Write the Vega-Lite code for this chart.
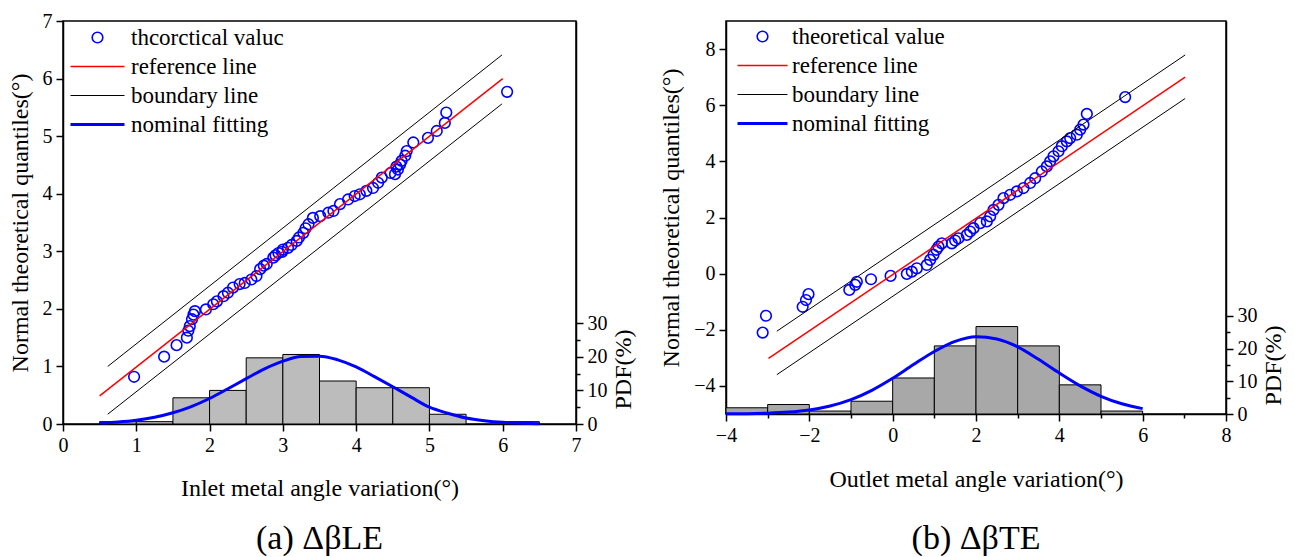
{
  "$schema": "https://vega.github.io/schema/vega-lite/v6.json",
  "background": "white",
  "padding": {"left": 7, "top": 10, "right": 5, "bottom": 5},
  "config": {
    "view": {"stroke": "black", "strokeWidth": 1.5},
    "axis": {"domainColor": "black", "domainWidth": 1.5, "tickColor": "black", "tickWidth": 1.5, "tickSize": 7, "labelColor": "black", "labelFont": "Liberation Serif", "labelFontSize": 20, "titleFont": "Liberation Serif", "titleFontSize": 24, "titleFontWeight": "normal", "titleColor": "black", "grid": false, "labelFlush": false, "labelOverlap": false, "labelPadding": 4},
    "legend": {"labelFont": "Liberation Serif", "labelFontSize": 23, "labelColor": "black"},
    "title": {"font": "Liberation Serif", "fontSize": 34, "fontWeight": "normal", "color": "black"}
  },
  "bounds": "flush",
  "spacing": 150,
  "resolve": {"scale": {"color": "independent", "shape": "independent", "size": "independent", "strokeWidth": "independent"}, "legend": {"color": "independent", "shape": "independent", "size": "independent", "strokeWidth": "independent"}},
  "hconcat": [
    {
      "width": 513,
      "height": 403,
      "title": {"text": "(a) ΔβLE", "orient": "bottom", "anchor": "middle", "offset": 22},
      "layer": [
        {
          "layer": [
            {
              "data": {"values": [
                {"lo": 0.5, "hi": 1.0, "pdf": 0.7},
                {"lo": 1.0, "hi": 1.5, "pdf": 0.7},
                {"lo": 1.5, "hi": 2.0, "pdf": 7.8},
                {"lo": 2.0, "hi": 2.5, "pdf": 10.0},
                {"lo": 2.5, "hi": 3.0, "pdf": 19.7},
                {"lo": 3.0, "hi": 3.5, "pdf": 20.7},
                {"lo": 3.5, "hi": 4.0, "pdf": 12.8},
                {"lo": 4.0, "hi": 4.5, "pdf": 10.8},
                {"lo": 4.5, "hi": 5.0, "pdf": 10.8},
                {"lo": 5.0, "hi": 5.5, "pdf": 2.9},
                {"lo": 6.0, "hi": 6.5, "pdf": 0.7}
              ]},
              "mark": {"type": "rect", "fill": "#bcbcbc", "stroke": "black", "strokeWidth": 1},
              "encoding": {
                "x": {"field": "lo", "type": "quantitative", "scale": {"domain": [0, 7], "nice": false},
                  "axis": {"title": "Inlet metal angle variation(°)", "values": [0, 0.5, 1, 1.5, 2, 2.5, 3, 3.5, 4, 4.5, 5, 5.5, 6, 6.5, 7], "format": "d", "labelExpr": "datum.value % 1 == 0 ? datum.label : ''", "tickSize": {"condition": {"test": "datum.value % 1 == 0", "value": 7}, "value": 4}, "titlePadding": 21}},
                "x2": {"field": "hi"},
                "y": {"field": "pdf", "type": "quantitative", "scale": {"domain": [0, 120], "nice": false},
                  "axis": {"orient": "right", "title": "PDF(%)", "values": [0, 5, 10, 15, 20, 25, 30], "format": "d", "labelExpr": "datum.value % 10 == 0 ? datum.label : ''", "tickSize": {"condition": {"test": "datum.value % 10 == 0", "value": 7}, "value": 4}, "titleAngle": 270, "titleBaseline": "top", "titleAlign": "center", "titleY": 348}},
                "y2": {"datum": 0}
              }
            },
            {
              "data": {"values": [
                {"x": 0.5, "pdf": 0.3, "series": "nominal fitting"},
                {"x": 0.75, "pdf": 0.61, "series": "nominal fitting"},
                {"x": 1.0, "pdf": 1.14, "series": "nominal fitting"},
                {"x": 1.25, "pdf": 2.01, "series": "nominal fitting"},
                {"x": 1.5, "pdf": 3.34, "series": "nominal fitting"},
                {"x": 1.75, "pdf": 5.2, "series": "nominal fitting"},
                {"x": 2.0, "pdf": 7.6, "series": "nominal fitting"},
                {"x": 2.25, "pdf": 10.5, "series": "nominal fitting"},
                {"x": 2.5, "pdf": 13.5, "series": "nominal fitting"},
                {"x": 2.75, "pdf": 16.4, "series": "nominal fitting"},
                {"x": 3.0, "pdf": 18.7, "series": "nominal fitting"},
                {"x": 3.25, "pdf": 20.1, "series": "nominal fitting"},
                {"x": 3.5, "pdf": 20.2, "series": "nominal fitting"},
                {"x": 3.75, "pdf": 19.1, "series": "nominal fitting"},
                {"x": 4.0, "pdf": 17.0, "series": "nominal fitting"},
                {"x": 4.25, "pdf": 14.1, "series": "nominal fitting"},
                {"x": 4.5, "pdf": 11.1, "series": "nominal fitting"},
                {"x": 4.75, "pdf": 8.0, "series": "nominal fitting"},
                {"x": 5.0, "pdf": 5.0, "series": "nominal fitting"},
                {"x": 5.25, "pdf": 3.2, "series": "nominal fitting"},
                {"x": 5.5, "pdf": 1.8, "series": "nominal fitting"},
                {"x": 5.75, "pdf": 1.0, "series": "nominal fitting"},
                {"x": 6.0, "pdf": 0.5, "series": "nominal fitting"},
                {"x": 6.25, "pdf": 0.25, "series": "nominal fitting"},
                {"x": 6.5, "pdf": 0.1, "series": "nominal fitting"}
              ]},
              "mark": {"type": "line", "interpolate": "monotone"},
              "encoding": {
                "x": {"field": "x", "type": "quantitative"},
                "y": {"field": "pdf", "type": "quantitative"},
                "color": {"field": "series", "type": "nominal", "scale": {"type": "ordinal", "domain": ["theoretical value", "reference line", "boundary line", "nominal fitting"], "range": ["#0000ff", "#ff0000", "#000000", "#0000ff"]}},
                "strokeWidth": {"field": "series", "type": "nominal", "scale": {"type": "ordinal", "domain": ["theoretical value", "reference line", "boundary line", "nominal fitting"], "range": [1.6, 1.5, 1, 3]}}
              }
            }
          ]
        },
        {
          "layer": [
            {
              "data": {"values": [
                {"x": 0.97, "y": 0.82, "series": "theoretical value"},
                {"x": 1.38, "y": 1.17, "series": "theoretical value"},
                {"x": 1.55, "y": 1.37, "series": "theoretical value"},
                {"x": 1.69, "y": 1.5, "series": "theoretical value"},
                {"x": 1.71, "y": 1.62, "series": "theoretical value"},
                {"x": 1.73, "y": 1.7, "series": "theoretical value"},
                {"x": 1.76, "y": 1.82, "series": "theoretical value"},
                {"x": 1.78, "y": 1.9, "series": "theoretical value"},
                {"x": 1.8, "y": 1.96, "series": "theoretical value"},
                {"x": 1.95, "y": 1.99, "series": "theoretical value"},
                {"x": 2.05, "y": 2.08, "series": "theoretical value"},
                {"x": 2.1, "y": 2.13, "series": "theoretical value"},
                {"x": 2.19, "y": 2.22, "series": "theoretical value"},
                {"x": 2.25, "y": 2.28, "series": "theoretical value"},
                {"x": 2.32, "y": 2.37, "series": "theoretical value"},
                {"x": 2.41, "y": 2.43, "series": "theoretical value"},
                {"x": 2.48, "y": 2.45, "series": "theoretical value"},
                {"x": 2.57, "y": 2.51, "series": "theoretical value"},
                {"x": 2.64, "y": 2.57, "series": "theoretical value"},
                {"x": 2.69, "y": 2.69, "series": "theoretical value"},
                {"x": 2.74, "y": 2.75, "series": "theoretical value"},
                {"x": 2.78, "y": 2.78, "series": "theoretical value"},
                {"x": 2.87, "y": 2.89, "series": "theoretical value"},
                {"x": 2.9, "y": 2.93, "series": "theoretical value"},
                {"x": 2.94, "y": 2.97, "series": "theoretical value"},
                {"x": 2.99, "y": 2.99, "series": "theoretical value"},
                {"x": 3.0, "y": 3.03, "series": "theoretical value"},
                {"x": 3.07, "y": 3.06, "series": "theoretical value"},
                {"x": 3.12, "y": 3.11, "series": "theoretical value"},
                {"x": 3.19, "y": 3.18, "series": "theoretical value"},
                {"x": 3.22, "y": 3.24, "series": "theoretical value"},
                {"x": 3.28, "y": 3.32, "series": "theoretical value"},
                {"x": 3.31, "y": 3.4, "series": "theoretical value"},
                {"x": 3.35, "y": 3.47, "series": "theoretical value"},
                {"x": 3.41, "y": 3.58, "series": "theoretical value"},
                {"x": 3.51, "y": 3.61, "series": "theoretical value"},
                {"x": 3.62, "y": 3.67, "series": "theoretical value"},
                {"x": 3.69, "y": 3.7, "series": "theoretical value"},
                {"x": 3.78, "y": 3.82, "series": "theoretical value"},
                {"x": 3.89, "y": 3.9, "series": "theoretical value"},
                {"x": 3.98, "y": 3.96, "series": "theoretical value"},
                {"x": 4.05, "y": 3.99, "series": "theoretical value"},
                {"x": 4.14, "y": 4.05, "series": "theoretical value"},
                {"x": 4.23, "y": 4.1, "series": "theoretical value"},
                {"x": 4.3, "y": 4.19, "series": "theoretical value"},
                {"x": 4.35, "y": 4.28, "series": "theoretical value"},
                {"x": 4.47, "y": 4.36, "series": "theoretical value"},
                {"x": 4.53, "y": 4.34, "series": "theoretical value"},
                {"x": 4.55, "y": 4.47, "series": "theoretical value"},
                {"x": 4.57, "y": 4.42, "series": "theoretical value"},
                {"x": 4.6, "y": 4.51, "series": "theoretical value"},
                {"x": 4.62, "y": 4.57, "series": "theoretical value"},
                {"x": 4.67, "y": 4.66, "series": "theoretical value"},
                {"x": 4.69, "y": 4.74, "series": "theoretical value"},
                {"x": 4.78, "y": 4.89, "series": "theoretical value"},
                {"x": 4.98, "y": 4.97, "series": "theoretical value"},
                {"x": 5.1, "y": 5.09, "series": "theoretical value"},
                {"x": 5.21, "y": 5.23, "series": "theoretical value"},
                {"x": 5.23, "y": 5.41, "series": "theoretical value"},
                {"x": 6.06, "y": 5.77, "series": "theoretical value"}
              ]},
              "mark": {"type": "point", "filled": false, "opacity": 1},
              "encoding": {
                "x": {"field": "x", "type": "quantitative"},
                "y": {"field": "y", "type": "quantitative", "scale": {"domain": [0, 7], "nice": false},
                  "axis": {"orient": "left", "title": "Normal theoretical quantiles(°)", "values": [0, 0.5, 1, 1.5, 2, 2.5, 3, 3.5, 4, 4.5, 5, 5.5, 6, 6.5, 7], "format": "d", "labelExpr": "datum.value % 1 == 0 ? datum.label : ''", "tickSize": {"condition": {"test": "datum.value % 1 == 0", "value": 7}, "value": 4}, "titlePadding": 10}},
                "color": {"field": "series", "type": "nominal", "scale": {"type": "ordinal", "domain": ["theoretical value", "reference line", "boundary line", "nominal fitting"], "range": ["#0000ff", "#ff0000", "#000000", "#0000ff"]},
                  "legend": {"orient": "none", "legendX": 6, "legendY": 3, "title": null, "clipHeight": 27, "rowPadding": 2, "padding": 0, "labelOffset": 5, "labelExpr": "datum.label == 'theoretical value' ? 'thcorctical valuc' : datum.label"}},
                "shape": {"field": "series", "type": "nominal", "scale": {"type": "ordinal", "domain": ["theoretical value", "reference line", "boundary line", "nominal fitting"], "range": ["circle", "stroke", "stroke", "stroke"]}},
                "size": {"field": "series", "type": "nominal", "scale": {"type": "ordinal", "domain": ["theoretical value", "reference line", "boundary line", "nominal fitting"], "range": [113, 2916, 2916, 2916]}},
                "strokeWidth": {"field": "series", "type": "nominal", "scale": {"type": "ordinal", "domain": ["theoretical value", "reference line", "boundary line", "nominal fitting"], "range": [1.6, 1.5, 1, 3]}}
              }
            },
            {
              "data": {"values": [
                {"x": 0.5, "y": 0.49, "series": "reference line", "part": "r"},
                {"x": 6.0, "y": 6.0, "series": "reference line", "part": "r"},
                {"x": 0.61, "y": 1.0, "series": "boundary line", "part": "u"},
                {"x": 5.99, "y": 6.41, "series": "boundary line", "part": "u"},
                {"x": 0.61, "y": 0.17, "series": "boundary line", "part": "l"},
                {"x": 5.99, "y": 5.56, "series": "boundary line", "part": "l"}
              ]},
              "mark": {"type": "line"},
              "encoding": {
                "x": {"field": "x", "type": "quantitative"},
                "y": {"field": "y", "type": "quantitative"},
                "detail": {"field": "part", "type": "nominal"},
                "color": {"field": "series", "type": "nominal", "scale": {"type": "ordinal", "domain": ["theoretical value", "reference line", "boundary line", "nominal fitting"], "range": ["#0000ff", "#ff0000", "#000000", "#0000ff"]}},
                "strokeWidth": {"field": "series", "type": "nominal", "scale": {"type": "ordinal", "domain": ["theoretical value", "reference line", "boundary line", "nominal fitting"], "range": [1.6, 1.5, 1, 3]}}
              }
            }
          ]
        }
      ],
      "resolve": {"scale": {"y": "independent"}}
    },
    {
      "width": 500,
      "height": 393,
      "title": {"text": "(b) ΔβTE", "orient": "bottom", "anchor": "middle", "offset": 31},
      "layer": [
        {
          "layer": [
            {
              "data": {"values": [
                {"lo": -4, "hi": -3, "pdf": 1.9},
                {"lo": -3, "hi": -2, "pdf": 2.9},
                {"lo": -2, "hi": -1, "pdf": 0.9},
                {"lo": -1, "hi": 0, "pdf": 3.9},
                {"lo": 0, "hi": 1, "pdf": 11.0},
                {"lo": 1, "hi": 2, "pdf": 20.8},
                {"lo": 2, "hi": 3, "pdf": 26.7},
                {"lo": 3, "hi": 4, "pdf": 20.8},
                {"lo": 4, "hi": 5, "pdf": 8.9},
                {"lo": 5, "hi": 6, "pdf": 0.9}
              ]},
              "mark": {"type": "rect", "fill": "#a8a8a8", "stroke": "black", "strokeWidth": 1},
              "encoding": {
                "x": {"field": "lo", "type": "quantitative", "scale": {"domain": [-4, 8], "nice": false},
                  "axis": {"title": "Outlet metal angle variation(°)", "values": [-4, -3, -2, -1, 0, 1, 2, 3, 4, 5, 6, 7, 8], "format": "d", "labelExpr": "datum.value % 2 == 0 ? datum.label : ''", "tickSize": {"condition": {"test": "datum.value % 2 == 0", "value": 7}, "value": 4}, "titlePadding": 22}},
                "x2": {"field": "hi"},
                "y": {"field": "pdf", "type": "quantitative", "scale": {"domain": [0, 120], "nice": false},
                  "axis": {"orient": "right", "title": "PDF(%)", "values": [0, 5, 10, 15, 20, 25, 30], "format": "d", "labelExpr": "datum.value % 10 == 0 ? datum.label : ''", "tickSize": {"condition": {"test": "datum.value % 10 == 0", "value": 7}, "value": 4}, "titleAngle": 270, "titleBaseline": "top", "titleAlign": "center", "titleY": 344}},
                "y2": {"datum": 0}
              }
            },
            {
              "data": {"values": [
                {"x": -4.0, "pdf": 0.04, "series": "nominal fitting"},
                {"x": -3.5, "pdf": 0.1, "series": "nominal fitting"},
                {"x": -3.0, "pdf": 0.25, "series": "nominal fitting"},
                {"x": -2.5, "pdf": 0.58, "series": "nominal fitting"},
                {"x": -2.0, "pdf": 1.24, "series": "nominal fitting"},
                {"x": -1.5, "pdf": 2.44, "series": "nominal fitting"},
                {"x": -1.0, "pdf": 4.39, "series": "nominal fitting"},
                {"x": -0.5, "pdf": 7.23, "series": "nominal fitting"},
                {"x": 0.0, "pdf": 10.9, "series": "nominal fitting"},
                {"x": 0.5, "pdf": 15.1, "series": "nominal fitting"},
                {"x": 1.0, "pdf": 19.1, "series": "nominal fitting"},
                {"x": 1.5, "pdf": 22.2, "series": "nominal fitting"},
                {"x": 2.0, "pdf": 23.6, "series": "nominal fitting"},
                {"x": 2.5, "pdf": 22.9, "series": "nominal fitting"},
                {"x": 3.0, "pdf": 20.5, "series": "nominal fitting"},
                {"x": 3.5, "pdf": 16.7, "series": "nominal fitting"},
                {"x": 4.0, "pdf": 12.5, "series": "nominal fitting"},
                {"x": 4.5, "pdf": 8.6, "series": "nominal fitting"},
                {"x": 5.0, "pdf": 5.41, "series": "nominal fitting"},
                {"x": 5.5, "pdf": 3.12, "series": "nominal fitting"},
                {"x": 6.0, "pdf": 1.64, "series": "nominal fitting"}
              ]},
              "mark": {"type": "line", "interpolate": "monotone"},
              "encoding": {
                "x": {"field": "x", "type": "quantitative"},
                "y": {"field": "pdf", "type": "quantitative"},
                "color": {"field": "series", "type": "nominal", "scale": {"type": "ordinal", "domain": ["theoretical value", "reference line", "boundary line", "nominal fitting"], "range": ["#0000ff", "#ff0000", "#000000", "#0000ff"]}},
                "strokeWidth": {"field": "series", "type": "nominal", "scale": {"type": "ordinal", "domain": ["theoretical value", "reference line", "boundary line", "nominal fitting"], "range": [1.6, 1.5, 1, 3]}}
              }
            }
          ]
        },
        {
          "layer": [
            {
              "data": {"values": [
                {"x": -3.12, "y": -2.1, "series": "theoretical value"},
                {"x": -3.04, "y": -1.5, "series": "theoretical value"},
                {"x": -2.16, "y": -1.18, "series": "theoretical value"},
                {"x": -2.08, "y": -0.94, "series": "theoretical value"},
                {"x": -2.02, "y": -0.73, "series": "theoretical value"},
                {"x": -1.04, "y": -0.58, "series": "theoretical value"},
                {"x": -0.9, "y": -0.4, "series": "theoretical value"},
                {"x": -0.86, "y": -0.29, "series": "theoretical value"},
                {"x": -0.52, "y": -0.2, "series": "theoretical value"},
                {"x": -0.05, "y": -0.08, "series": "theoretical value"},
                {"x": 0.34, "y": -0.01, "series": "theoretical value"},
                {"x": 0.46, "y": 0.07, "series": "theoretical value"},
                {"x": 0.58, "y": 0.19, "series": "theoretical value"},
                {"x": 0.82, "y": 0.31, "series": "theoretical value"},
                {"x": 0.9, "y": 0.49, "series": "theoretical value"},
                {"x": 0.98, "y": 0.67, "series": "theoretical value"},
                {"x": 1.05, "y": 0.85, "series": "theoretical value"},
                {"x": 1.1, "y": 0.96, "series": "theoretical value"},
                {"x": 1.18, "y": 1.08, "series": "theoretical value"},
                {"x": 1.42, "y": 1.08, "series": "theoretical value"},
                {"x": 1.5, "y": 1.18, "series": "theoretical value"},
                {"x": 1.58, "y": 1.26, "series": "theoretical value"},
                {"x": 1.78, "y": 1.38, "series": "theoretical value"},
                {"x": 1.86, "y": 1.5, "series": "theoretical value"},
                {"x": 1.94, "y": 1.62, "series": "theoretical value"},
                {"x": 2.1, "y": 1.8, "series": "theoretical value"},
                {"x": 2.26, "y": 1.86, "series": "theoretical value"},
                {"x": 2.34, "y": 2.04, "series": "theoretical value"},
                {"x": 2.42, "y": 2.27, "series": "theoretical value"},
                {"x": 2.54, "y": 2.45, "series": "theoretical value"},
                {"x": 2.66, "y": 2.69, "series": "theoretical value"},
                {"x": 2.82, "y": 2.81, "series": "theoretical value"},
                {"x": 2.98, "y": 2.93, "series": "theoretical value"},
                {"x": 3.14, "y": 3.05, "series": "theoretical value"},
                {"x": 3.3, "y": 3.23, "series": "theoretical value"},
                {"x": 3.42, "y": 3.4, "series": "theoretical value"},
                {"x": 3.58, "y": 3.64, "series": "theoretical value"},
                {"x": 3.7, "y": 3.82, "series": "theoretical value"},
                {"x": 3.78, "y": 4.0, "series": "theoretical value"},
                {"x": 3.86, "y": 4.18, "series": "theoretical value"},
                {"x": 3.98, "y": 4.36, "series": "theoretical value"},
                {"x": 4.06, "y": 4.54, "series": "theoretical value"},
                {"x": 4.18, "y": 4.71, "series": "theoretical value"},
                {"x": 4.26, "y": 4.83, "series": "theoretical value"},
                {"x": 4.42, "y": 4.95, "series": "theoretical value"},
                {"x": 4.5, "y": 5.13, "series": "theoretical value"},
                {"x": 4.58, "y": 5.31, "series": "theoretical value"},
                {"x": 4.66, "y": 5.69, "series": "theoretical value"},
                {"x": 5.58, "y": 6.29, "series": "theoretical value"}
              ]},
              "mark": {"type": "point", "filled": false, "opacity": 1},
              "encoding": {
                "x": {"field": "x", "type": "quantitative"},
                "y": {"field": "y", "type": "quantitative", "scale": {"domain": [-5, 9], "nice": false},
                  "axis": {"orient": "left", "title": "Normal theoretical quantiles(°)", "values": [-4, -3, -2, -1, 0, 1, 2, 3, 4, 5, 6, 7, 8], "format": "d", "labelExpr": "datum.value % 2 == 0 ? datum.label : ''", "tickSize": {"condition": {"test": "datum.value % 2 == 0", "value": 7}, "value": 4}, "titlePadding": 10}},
                "color": {"field": "series", "type": "nominal", "scale": {"type": "ordinal", "domain": ["theoretical value", "reference line", "boundary line", "nominal fitting"], "range": ["#0000ff", "#ff0000", "#000000", "#0000ff"]},
                  "legend": {"orient": "none", "legendX": 10, "legendY": 2, "title": null, "clipHeight": 27, "rowPadding": 2, "padding": 0, "labelOffset": 3}},
                "shape": {"field": "series", "type": "nominal", "scale": {"type": "ordinal", "domain": ["theoretical value", "reference line", "boundary line", "nominal fitting"], "range": ["circle", "stroke", "stroke", "stroke"]}},
                "size": {"field": "series", "type": "nominal", "scale": {"type": "ordinal", "domain": ["theoretical value", "reference line", "boundary line", "nominal fitting"], "range": [113, 2500, 2500, 2500]}},
                "strokeWidth": {"field": "series", "type": "nominal", "scale": {"type": "ordinal", "domain": ["theoretical value", "reference line", "boundary line", "nominal fitting"], "range": [1.6, 1.5, 1, 3]}}
              }
            },
            {
              "data": {"values": [
                {"x": -2.98, "y": -3.02, "series": "reference line", "part": "r"},
                {"x": 7.02, "y": 7.0, "series": "reference line", "part": "r"},
                {"x": -2.78, "y": -2.05, "series": "boundary line", "part": "u"},
                {"x": 7.02, "y": 7.79, "series": "boundary line", "part": "u"},
                {"x": -2.78, "y": -3.6, "series": "boundary line", "part": "l"},
                {"x": 7.02, "y": 6.24, "series": "boundary line", "part": "l"}
              ]},
              "mark": {"type": "line"},
              "encoding": {
                "x": {"field": "x", "type": "quantitative"},
                "y": {"field": "y", "type": "quantitative"},
                "detail": {"field": "part", "type": "nominal"},
                "color": {"field": "series", "type": "nominal", "scale": {"type": "ordinal", "domain": ["theoretical value", "reference line", "boundary line", "nominal fitting"], "range": ["#0000ff", "#ff0000", "#000000", "#0000ff"]}},
                "strokeWidth": {"field": "series", "type": "nominal", "scale": {"type": "ordinal", "domain": ["theoretical value", "reference line", "boundary line", "nominal fitting"], "range": [1.6, 1.5, 1, 3]}}
              }
            }
          ]
        }
      ],
      "resolve": {"scale": {"y": "independent"}}
    }
  ]
}
